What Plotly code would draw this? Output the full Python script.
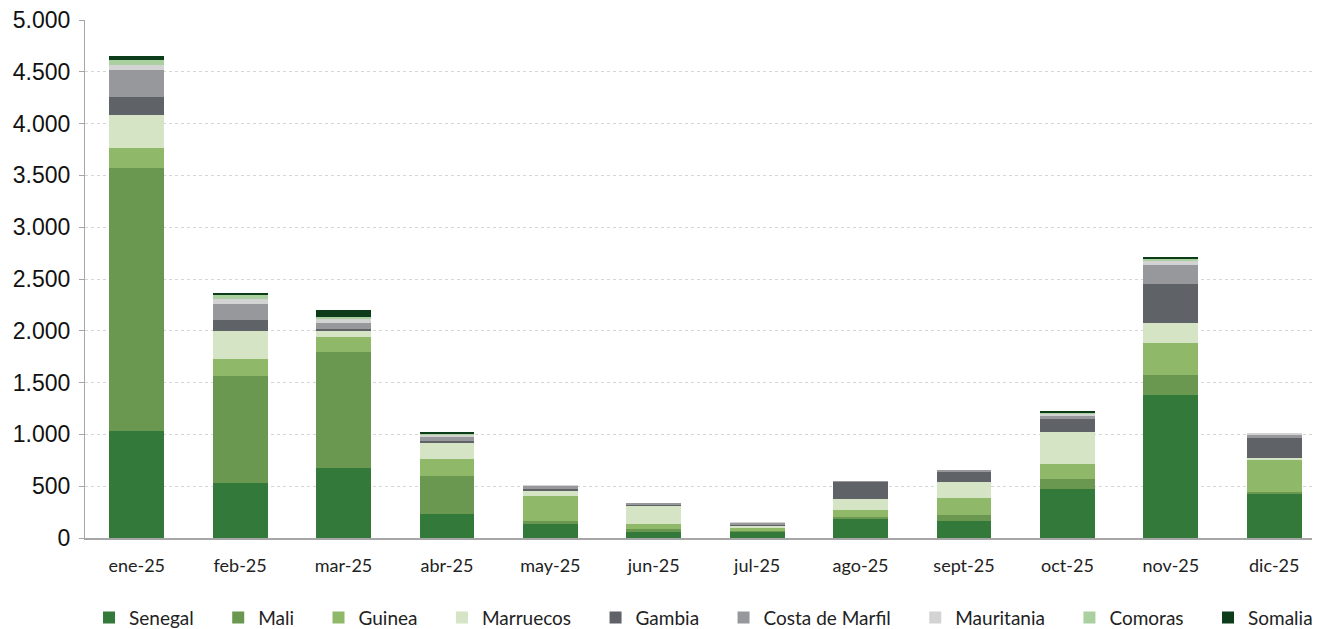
import plotly.graph_objects as go

months = ['ene-25', 'feb-25', 'mar-25', 'abr-25', 'may-25', 'jun-25',
          'jul-25', 'ago-25', 'sept-25', 'oct-25', 'nov-25', 'dic-25']

senegal = [1035, 530, 680, 230, 135, 60, 60, 190, 160, 470, 1380, 430]
mali = [2535, 1035, 1120, 370, 30, 25, 10, 10, 60, 100, 190, 10]
guinea = [195, 165, 145, 165, 240, 50, 25, 70, 170, 140, 310, 310]
marruecos = [320, 270, 55, 155, 50, 175, 30, 110, 150, 310, 200, 20]
gambia = [175, 105, 20, 15, 20, 5, 5, 165, 105, 130, 370, 200]
costa_marfil = [260, 155, 60, 48, 30, 25, 18, 5, 5, 30, 185, 30]
mauritania = [50, 50, 40, 15, 5, 0, 4, 0, 0, 20, 35, 15]
comoras = [45, 37, 10, 10, 0, 0, 0, 0, 0, 15, 20, 0]
somalia = [38, 22, 75, 10, 0, 0, 0, 0, 0, 10, 20, 0]

series = [
    ('Senegal', senegal, '#33793a'),
    ('Mali', mali, '#6a9850'),
    ('Guinea', guinea, '#8fb969'),
    ('Marruecos', marruecos, '#d4e4c4'),
    ('Gambia', gambia, '#5f6266'),
    ('Costa de Marfil', costa_marfil, '#96989b'),
    ('Mauritania', mauritania, '#d3d3d3'),
    ('Comoras', comoras, '#aad0a0'),
    ('Somalia', somalia, '#0c3c19'),
]

pad = '\u00a0' * 4  # extra room between legend entries

fig = go.Figure()
for i, (name, vals, col) in enumerate(series):
    label = name if i == len(series) - 1 else name + pad
    fig.add_trace(go.Bar(x=months, y=vals, name=label, marker_color=col,
                         marker_line_width=0))

# the page body adds an 8px offset, margins below compensate for it
fig.update_layout(
    barmode='stack', bargap=0.47,
    width=1320, height=629,
    margin=dict(l=77, r=0, t=12, b=97),
    plot_bgcolor='white', paper_bgcolor='white',
    separators=',.',
    font=dict(family='Lato, sans-serif', color='#222222'),
    legend=dict(orientation='h', x=0.4976, xanchor='center', y=-0.154, yanchor='middle',
                font=dict(size=19, family='Lato, sans-serif'), traceorder='normal',
                itemwidth=30),
)
fig.update_xaxes(range=[-0.5, 11.52], showline=True, linecolor='#a6a6a6', linewidth=2,
                 tickfont=dict(size=18, family='Lato, sans-serif'), ticks='',
                 ticklabelstandoff=10, automargin=False)
fig.update_yaxes(range=[0, 5000], dtick=500, tickformat=',d',
                 showline=True, linecolor='#a6a6a6', linewidth=1,
                 ticks='outside', ticklen=5, tickcolor='#a6a6a6',
                 showgrid=True, gridcolor='#d6d6d6', griddash='dot', gridwidth=1,
                 tickfont=dict(size=23, family='Liberation Sans, Arial, sans-serif', color='#111111'),
                 ticklabelstandoff=4, ticklabeloverflow='allow',
                 zeroline=False, automargin=False)

fig.write_html("out.html")
